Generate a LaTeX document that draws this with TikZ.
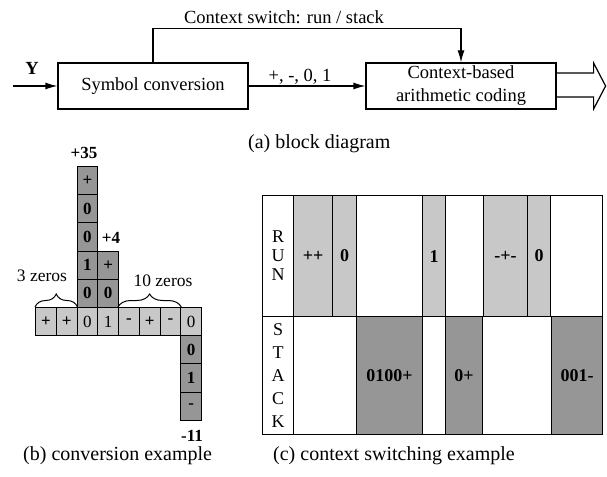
\documentclass[tikz,border=0pt]{standalone}
\usepackage{fontspec}
\setmainfont{Liberation Serif}
\usetikzlibrary{arrows.meta, positioning, calc, decorations.pathreplacing}

\definecolor{lightg}{RGB}{200,200,200}
\definecolor{darkg}{RGB}{150,150,150}

\begin{document}
\begin{tikzpicture}[x=1pt, y=-1pt,
    box/.style={rectangle, draw, line width=1.2pt, minimum width=190pt, minimum height=46pt, inner sep=0pt, align=center, font=\fontsize{18.5}{23}\selectfont},
    lbl/.style={inner sep=0pt, font=\fontsize{18.5}{22}\selectfont},
    caption/.style={inner sep=0pt, anchor=west, font=\fontsize{20}{24}\selectfont},
    arrow/.style={-{Latex[length=12pt, width=7pt]}, line width=1.2pt},
    bcell/.style={rectangle, draw, line width=1pt, minimum width=20.75pt, minimum height=28.2pt, inner sep=0pt, anchor=north west, font=\fontsize{17}{19}\selectfont},
    bf/.style={font=\fontsize{17}{19}\selectfont\bfseries},
    nf/.style={},
    rowcell/.style={bcell, fill=lightg},
    colcell/.style={bcell, bf, fill=darkg},
    num/.style={inner sep=0pt, font=\fontsize{17}{20}\selectfont\bfseries},
    tcell/.style={rectangle, draw, line width=1.2pt, inner sep=0pt, anchor=north west, font=\fontsize{18}{20}\selectfont\bfseries}
]
    \useasboundingbox (0,0) rectangle (607,476);

    % --- (a) Block diagram ---
    \node[box] (conv) at (153,86) {Symbol conversion};
    \node[box] (cabac) at (461,86) {Context-based\\arithmetic coding};

    \coordinate (yin) at (13,86);
    \draw [arrow] (yin) -- (conv.west);
    \node[lbl, font=\fontsize{18.5}{22}\selectfont\bfseries] (ylbl) at (32,68) {Y};

    \draw [arrow] (conv.east) -- (cabac.west);
    \node[lbl] (symlbl) at (300,77) {+, -, 0, 1};

    % context switch feedback
    \draw [arrow] (conv.north) -- ++(0,-34) -| (cabac.north);
    \node[lbl] (ctxlbl) at (284,17) {Context switch: run / stack};

    % hollow output arrow
    \draw [line width=1.2pt] ($(cabac.east)+(0,-13)$) -- ++(37,0) -- ++(0,-10)
        -- ($(cabac.east)+(49,0)$) -- ($(cabac.east)+(37,23)$) -- ++(0,-12)
        -- ($(cabac.east)+(0,11)$);

    \node[caption] (capa) at (248,144) {(a) block diagram};

    % --- (b) Conversion example ---
    \foreach \t/\f [count=\i] in {+/bf, +/bf, 0/nf, 1/nf, -/bf, +/bf, -/bf, 0/nf}
        \node[rowcell, \f] (r\i) at ({35+(\i-1)*20.75},307) {\t};

    \foreach \t [count=\i] in {+,0,0,1,0}
        \node[colcell] (c\i) at ({35+2*20.75},{307-(6-\i)*28.2}) {\t};
    \foreach \t [count=\i] in {+,0}
        \node[colcell] (d\i) at ({35+3*20.75},{307-(3-\i)*28.2}) {\t};
    \foreach \t [count=\i] in {0,1,-}
        \node[colcell] (e\i) at ({35+7*20.75},{307+\i*28.2}) {\t};

    \node[num] (n35) at (84,153) {+35};
    \node[num] (n4) at (111,238) {+4};
    \node[num] (n11) at (192,436) {-11};

    \draw [line width=1pt, decorate, decoration={brace, amplitude=13pt}] (r1.north west) -- (r2.north east);
    \draw [line width=1pt, decorate, decoration={brace, amplitude=13pt}] (r5.north west) -- (r7.north east);
    \node[lbl, font=\fontsize{17.5}{20}\selectfont] (z3) at (42,276) {3 zeros};
    \node[lbl, font=\fontsize{17.5}{20}\selectfont] (z10) at (163,281) {10 zeros};

    \node[caption] (capb) at (23,456) {(b) conversion example};

    % --- (c) Context switching example ---
    \node[tcell, minimum width=31pt, minimum height=121pt, align=center, font=\fontsize{18}{19}\selectfont] (runlbl) at (262,195) {R\\U\\N};
    \node[tcell, minimum width=31pt, minimum height=118pt, align=center, font=\fontsize{18}{23}\selectfont] (stacklbl) at (262,316) {S\\T\\A\\C\\K};

    \foreach \a/\b/\c/\t [count=\i, evaluate=\a as \w using \b-\a] in
        {293/332/lightg/++, 332/356/lightg/0, 356/422/white/, 422/445/lightg/1,
         445/483/white/, 483/527/lightg/-+-, 527/550/lightg/0, 550/602/white/}
        \node[tcell, fill=\c, minimum width=\w pt, minimum height=121pt] (run\i) at (\a,195) {\t};

    \foreach \a/\b/\c/\t [count=\i, evaluate=\a as \w using \b-\a] in
        {293/356/white/, 356/422/darkg/0100+, 422/445/white/, 445/482/darkg/0+,
         482/551/white/, 551/602/darkg/001-}
        \node[tcell, fill=\c, minimum width=\w pt, minimum height=118pt] (stack\i) at (\a,316) {\t};

    \node[caption] (capc) at (273,456) {(c) context switching example};

\end{tikzpicture}
\end{document}
